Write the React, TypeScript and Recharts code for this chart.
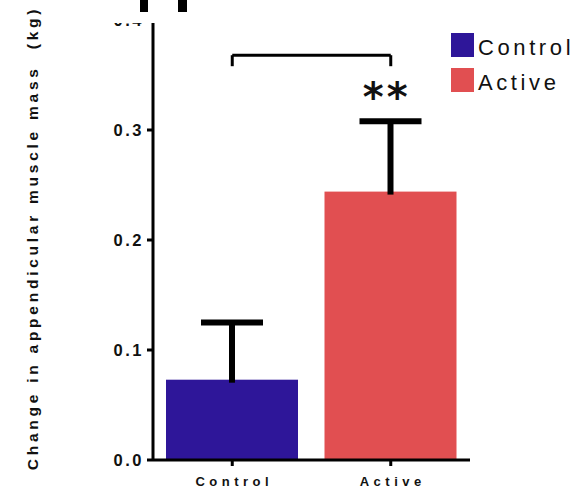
import { Bar, BarChart, Cell, Legend, ReferenceDot, ReferenceLine, XAxis, YAxis } from "recharts";

const groups = ["Control", "Active"];
const meanChange = [0.073, 0.244];
const semChange = [0.052, 0.064];
const yTicks = [0, 0.1, 0.2, 0.3, 0.4];
const bracketTop = 0.368;
const bracketFoot = 0.358;
const starLevel = 0.338;

const colors = ["#2E1699", "#E14F51"];
const font = "'Liberation Sans', Arial, sans-serif";

const data = groups.map((group, i) => ({ group, mean: meanChange[i], sem: semChange[i] }));

// bar + upper-only error bar, error length scaled from the bar's own px/value
function BarWithError(props: any) {
  const { x, y, width, height, payload, index } = props;
  const pxPerUnit = height / payload.mean;
  const top = y - payload.sem * pxPerUnit;
  const cx = x + width / 2;
  return (
    <g>
      <rect x={x} y={y} width={width} height={height} fill={colors[index]} />
      <line x1={cx} x2={cx} y1={y + 3} y2={top} stroke="#000" strokeWidth={6} />
      <line x1={cx - 31} x2={cx + 31} y1={top} y2={top} stroke="#000" strokeWidth={6} />
    </g>
  );
}

function YTick({ x, y, payload }: any) {
  return (
    <text x={x - 1} y={y} dy={6} textAnchor="end" fill="#111" fontFamily={font} fontWeight="bold" fontSize={16.5} style={{ letterSpacing: 2.5 }}>
      {Number(payload.value).toFixed(1)}
    </text>
  );
}

function XTick({ x, y, payload }: any) {
  return (
    <text x={x + 2} y={y} dy={18} textAnchor="middle" fill="#111" fontFamily={font} fontWeight="bold" fontSize={13} style={{ letterSpacing: 4.5 }}>
      {payload.value}
    </text>
  );
}

function LegendBox() {
  return (
    <div style={{ fontFamily: font }}>
      {groups.map((g, i) => (
        <div key={g} style={{ display: "flex", alignItems: "center", height: 35 }}>
          <span style={{ width: 23, height: 24, background: colors[i], display: "inline-block", marginRight: 4 }} />
          <span style={{ fontSize: 22, letterSpacing: 3.6, color: "#111", position: "relative", top: 3 }}>{g}</span>
        </div>
      ))}
    </div>
  );
}

export default function App() {
  return (
    <div style={{ position: "absolute", left: 0, top: 0, width: 580, height: 489, background: "#fff" }}>
      <BarChart width={580} height={489} data={data} margin={{ top: 20, right: 110, bottom: 0, left: 0 }}>
        <XAxis
          dataKey="group"
          height={29}
          axisLine={{ stroke: "#000", strokeWidth: 3 }}
          tickLine={{ stroke: "#000", strokeWidth: 3 }}
          tickSize={6}
          tick={<XTick />}
        />
        <YAxis
          width={153}
          domain={[0, 0.4]}
          ticks={yTicks}
          axisLine={{ stroke: "#000", strokeWidth: 3 }}
          tickLine={{ stroke: "#000", strokeWidth: 3 }}
          tickSize={6}
          tick={<YTick />}
        />
        <Legend
          layout="horizontal"
          verticalAlign="middle"
          align="center"
          wrapperStyle={{ left: 451, top: 27, width: 130 }}
          content={() => <LegendBox />}
        />
        <Bar dataKey="mean" barSize={132} isAnimationActive={false} shape={<BarWithError />}>
          {data.map((d, i) => (
            <Cell key={d.group} fill={colors[i]} />
          ))}
        </Bar>
        <ReferenceLine segment={[{ x: "Control", y: bracketTop }, { x: "Active", y: bracketTop }]} stroke="#000" strokeWidth={3} />
        <ReferenceLine segment={[{ x: "Control", y: bracketTop }, { x: "Control", y: bracketFoot }]} stroke="#000" strokeWidth={3} />
        <ReferenceLine segment={[{ x: "Active", y: bracketTop }, { x: "Active", y: bracketFoot }]} stroke="#000" strokeWidth={3} />
        <ReferenceDot
          x="Active"
          y={starLevel}
          r={1}
          fill="none"
          stroke="none"
          label={({ viewBox }: any) => (
            <text
              x={viewBox.x + viewBox.width / 2 - 4}
              y={viewBox.y + 24}
              textAnchor="middle"
              fill="#111"
              fontFamily="'DejaVu Sans', sans-serif"
              fontWeight="bold"
              fontSize={40}
              style={{ letterSpacing: 3 }}
            >
              **
            </text>
          )}
        />
      </BarChart>
      <div
        style={{
          position: "absolute",
          left: 33,
          top: 238,
          transform: "translate(-50%, -50%) rotate(-90deg)",
          whiteSpace: "pre",
          fontFamily: font,
          fontWeight: "bold",
          fontSize: 15.5,
          letterSpacing: 3.75,
          color: "#111",
        }}
      >
        {"Change in appendicular muscle mass  (kg)"}
      </div>
      {/* cropped top edge of the original figure */}
      <div style={{ position: "absolute", left: 90, top: 0, width: 210, height: 23, background: "#fff" }} />
      <div style={{ position: "absolute", left: 140, top: 0, width: 8, height: 12, background: "#000" }} />
      <div style={{ position: "absolute", left: 178, top: 0, width: 9, height: 12, background: "#000" }} />
    </div>
  );
}
